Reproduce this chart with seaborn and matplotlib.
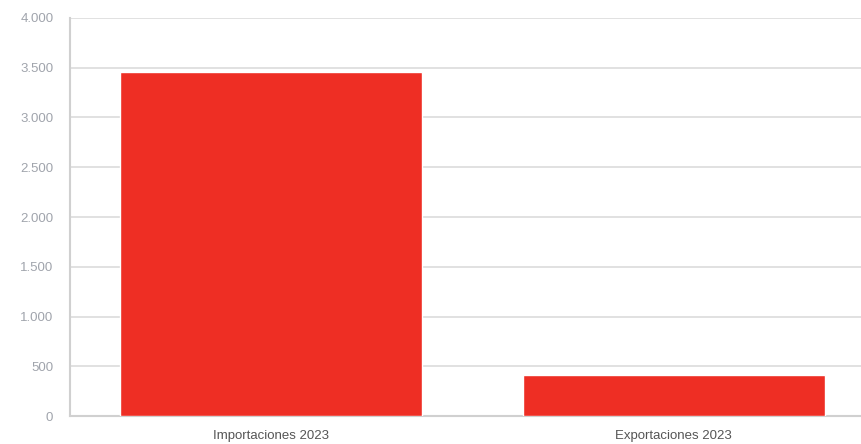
import matplotlib
matplotlib.use("Agg")
import matplotlib.pyplot as plt
import matplotlib.ticker as mticker
import seaborn as sns
import pandas as pd

# datos
categorias = ["Importaciones 2023", "Exportaciones 2023"]
valores = [3460, 410]

df = pd.DataFrame({"categoria": categorias, "valor": valores})

sns.set_style("white")
plt.rcParams["font.family"] = ["Liberation Sans", "DejaVu Sans"]

fig = plt.figure(figsize=(8.62, 4.44), dpi=100)
ax = fig.add_axes([0.0812, 0.063, 0.9338, 0.8965])

sns.barplot(data=df, x="categoria", y="valor", color="#ee2e24", saturation=1,
            width=0.75, ax=ax, zorder=3)

ax.set_ylim(0, 4000)
ax.set_yticks(range(0, 4001, 500))
ax.yaxis.set_major_formatter(mticker.FuncFormatter(lambda v, p: f"{int(v):,}".replace(",", ".")))
ax.grid(axis="y", color="#dcdcdc", linewidth=1.2, zorder=0)
ax.set_axisbelow(True)

for s in ["top", "right"]:
    ax.spines[s].set_visible(False)
for s in ["left", "bottom"]:
    ax.spines[s].set_color("#d0d0d0")
    ax.spines[s].set_linewidth(1.5)

ax.tick_params(axis="y", length=0, labelsize=9.5, labelcolor="#a0a4ac", pad=12)
ax.tick_params(axis="x", length=0, labelsize=9.5, labelcolor="#555555", pad=10)
ax.set_xlabel("")
ax.set_ylabel("")

fig.savefig("out.png", dpi=100)
